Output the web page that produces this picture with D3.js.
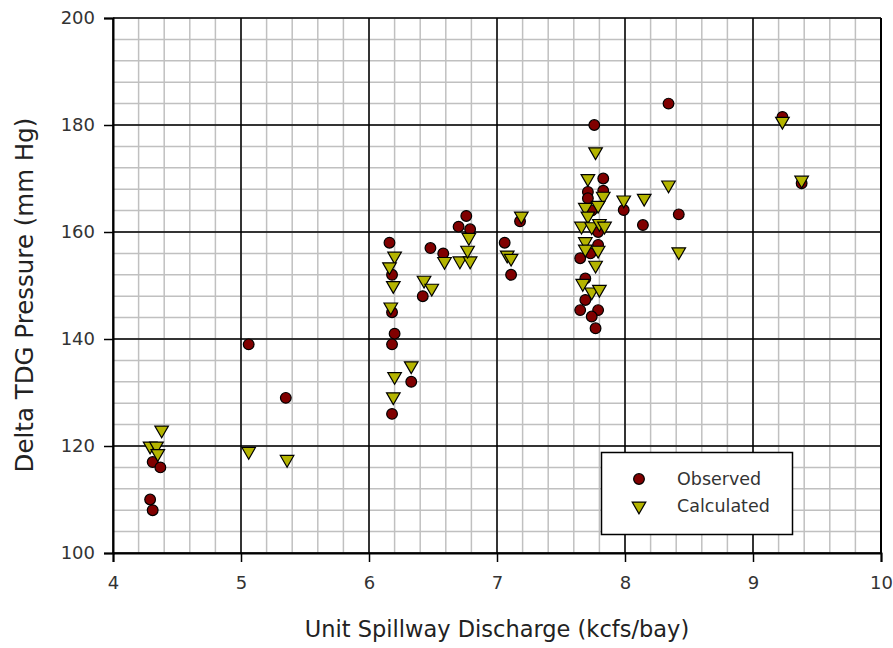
<!DOCTYPE html>
<html>
<head>
<meta charset="utf-8">
<script src="https://cdn.jsdelivr.net/npm/d3@7"></script>
<style>
  body { margin: 0; background: #fff; }
  svg { font-family: "DejaVu Sans", Arial, sans-serif; }
</style>
</head>
<body>
<div class="canva"></div>
<script>
// observed points [discharge, pressure]
const observed = [
  [4.29, 110], [4.31, 108], [4.31, 117], [4.37, 116],
  [5.06, 139], [5.35, 129],
  [6.16, 158], [6.18, 152], [6.18, 145], [6.20, 141], [6.18, 139], [6.33, 132], [6.18, 126],
  [6.42, 148], [6.48, 157], [6.58, 156], [6.70, 161], [6.76, 163], [6.79, 160.5],
  [7.06, 158], [7.11, 152], [7.18, 162],
  [7.76, 180], [7.83, 170], [7.71, 167.5], [7.83, 167.7], [7.71, 166.3], [7.74, 164],
  [7.79, 160], [7.79, 157.6], [7.73, 156], [7.65, 155.1], [7.69, 151.3], [7.69, 147.3],
  [7.65, 145.4], [7.79, 145.4], [7.74, 144.2], [7.77, 142],
  [7.99, 164.1], [8.14, 161.3], [8.34, 184], [8.42, 163.3], [9.23, 181.5], [9.38, 169.1]
];

// calculated points [discharge, pressure]
const calculated = [
  [4.38, 123], [4.29, 120], [4.34, 120], [4.35, 118.6],
  [5.06, 119], [5.36, 117.5],
  [6.20, 155.5], [6.16, 153.5], [6.19, 150], [6.17, 146], [6.33, 135], [6.20, 133], [6.19, 129.2],
  [6.43, 151], [6.49, 149.5], [6.59, 154.5], [6.71, 154.6], [6.79, 154.6], [6.78, 159], [6.77, 156.6],
  [7.08, 155.7], [7.11, 155.1], [7.19, 163],
  [7.77, 175], [7.71, 170], [7.83, 166.7], [7.69, 164.6], [7.79, 165], [7.71, 163],
  [7.66, 161.1], [7.74, 161], [7.80, 161.6], [7.84, 161.1], [7.69, 158.2], [7.79, 156.6],
  [7.69, 156.8], [7.77, 153.8], [7.67, 150.4], [7.74, 148.8], [7.80, 149.3],
  [7.99, 166], [8.15, 166.3], [8.34, 168.8], [8.42, 156.3], [9.23, 180.7], [9.38, 169.7]
];

const xTicks = [4, 5, 6, 7, 8, 9, 10];
const yTicks = [100, 120, 140, 160, 180, 200];

const width = 893, height = 648;
const margin = {top: 18, right: 12, bottom: 95, left: 113};

const svg = d3.select(".canva").append("svg")
    .attr("width", width)
    .attr("height", height);

const x = d3.scaleLinear().domain([4, 10]).range([margin.left, width - margin.right]);
const y = d3.scaleLinear().domain([100, 200]).range([height - margin.bottom, margin.top]);

// minor grid
const grid = svg.append("g");
grid.selectAll(".vminor")
    .data(d3.range(4, 10.001, 0.2))
    .enter().append("line")
    .attr("x1", d => x(d)).attr("x2", d => x(d))
    .attr("y1", y(100)).attr("y2", y(200))
    .attr("stroke", "#c0c0c0").attr("stroke-width", 1.5);
grid.selectAll(".hminor")
    .data(d3.range(100, 200.001, 4))
    .enter().append("line")
    .attr("y1", d => y(d)).attr("y2", d => y(d))
    .attr("x1", x(4)).attr("x2", x(10))
    .attr("stroke", "#c0c0c0").attr("stroke-width", 1.5);

// major grid
grid.selectAll(".vmajor")
    .data(xTicks)
    .enter().append("line")
    .attr("x1", d => x(d)).attr("x2", d => x(d))
    .attr("y1", y(100)).attr("y2", y(200))
    .attr("stroke", "#000").attr("stroke-width", 1.5);
grid.selectAll(".hmajor")
    .data(yTicks)
    .enter().append("line")
    .attr("y1", d => y(d)).attr("y2", d => y(d))
    .attr("x1", x(4)).attr("x2", x(10))
    .attr("stroke", "#000").attr("stroke-width", 1.5);

// axes
const xAxis = svg.append("g")
    .attr("transform", `translate(0,${y(100)})`)
    .call(d3.axisBottom(x).tickValues(xTicks).tickFormat(d3.format("d")).tickSize(9).tickPadding(14));
const yAxis = svg.append("g")
    .attr("transform", `translate(${x(4)},0)`)
    .call(d3.axisLeft(y).tickValues(yTicks).tickFormat(d3.format("d")).tickSize(9).tickPadding(9));

[xAxis, yAxis].forEach(a => {
  a.select(".domain").attr("stroke", "#000").attr("stroke-width", 2);
  a.selectAll(".tick line").attr("stroke", "#000").attr("stroke-width", 1.5);
  a.selectAll(".tick text")
    .attr("fill", "#333")
    .style("font-size", "18px")
    .style("font-family", "'DejaVu Sans', Arial, sans-serif");
});

// right frame
svg.append("line")
    .attr("x1", x(10)).attr("x2", x(10)).attr("y1", y(100)).attr("y2", y(200))
    .attr("stroke", "#000").attr("stroke-width", 2);

// axis titles
svg.append("text")
    .attr("x", (x(4) + x(10)) / 2)
    .attr("y", 637)
    .attr("text-anchor", "middle")
    .attr("fill", "#222")
    .style("font-size", "22.5px")
    .text("Unit Spillway Discharge (kcfs/bay)");

svg.append("text")
    .attr("transform", `translate(33,295) rotate(-90)`)
    .attr("text-anchor", "middle")
    .attr("fill", "#222")
    .style("font-size", "24.5px")
    .text("Delta TDG Pressure (mm Hg)");

const circleSym = d3.symbol().type(d3.symbolCircle).size(90);
const triSym = d3.symbol().type(d3.symbolTriangle).size(80);

// observed
svg.append("g").selectAll("path")
    .data(observed)
    .enter().append("path")
    .attr("d", circleSym)
    .attr("transform", d => `translate(${x(d[0])},${y(d[1])})`)
    .attr("fill", "#800000")
    .attr("stroke", "#000")
    .attr("stroke-width", 1.2);

// calculated
svg.append("g").selectAll("path")
    .data(calculated)
    .enter().append("path")
    .attr("d", triSym)
    .attr("transform", d => `translate(${x(d[0])},${y(d[1])}) rotate(180)`)
    .attr("fill", "#b4b400")
    .attr("stroke", "#000")
    .attr("stroke-width", 1.2);

// legend
const legend = svg.append("g");
legend.append("rect")
    .attr("x", 601.5).attr("y", 452.5)
    .attr("width", 191).attr("height", 82)
    .attr("fill", "#fff").attr("stroke", "#000").attr("stroke-width", 1.5);

const legendItems = [
  {label: "Observed", sym: circleSym, fill: "#800000", rot: 0},
  {label: "Calculated", sym: triSym, fill: "#b4b400", rot: 180}
];
legendItems.forEach((it, i) => {
  const ly = 479 + i * 27;
  legend.append("path")
    .attr("d", it.sym)
    .attr("transform", `translate(639,${ly}) rotate(${it.rot})`)
    .attr("fill", it.fill).attr("stroke", "#000").attr("stroke-width", 1.2);
  legend.append("text")
    .attr("x", 677).attr("y", ly + 6)
    .attr("fill", "#333")
    .style("font-size", "17.5px")
    .text(it.label);
});
</script>
</body>
</html>
